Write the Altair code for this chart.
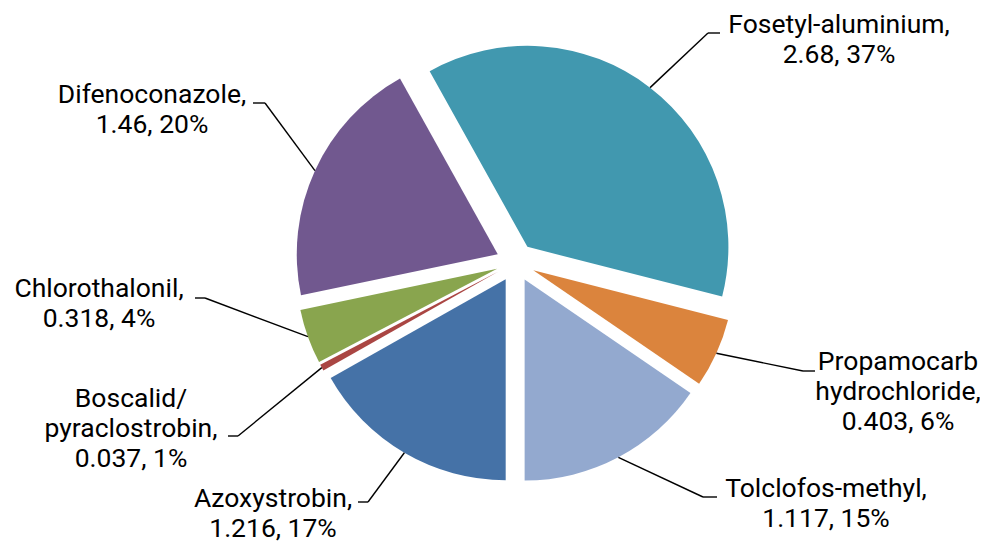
import math
import altair as alt
import pandas as pd

# ---- data (series order as in the workbook) ----
names = ["Azoxystrobin", "Boscalid/pyraclostrobin", "Chlorothalonil", "Difenoconazole",
         "Fosetyl-aluminium", "Propamocarb hydrochloride", "Tolclofos-methyl"]
label_names = ["Azoxystrobin,", "Boscalid/\npyraclostrobin,", "Chlorothalonil,", "Difenoconazole,",
               "Fosetyl-aluminium,", "Propamocarb\nhydrochloride,", "Tolclofos-methyl,"]
values = [1.216, 0.037, 0.318, 1.46, 2.68, 0.403, 1.117]
value_text = ["1.216", "0.037", "0.318", "1.46", "2.68", "0.403", "1.117"]
percents = [17, 1, 4, 20, 37, 6, 15]
colors = ["#4572A7", "#AA4643", "#89A54E", "#71588F", "#4198AF", "#DB843D", "#93A9CF"]

# ---- label layout (pixels in chart space) ----
label_x = [265, 123, 91, 144, 831, 890, 818]
label_y = [499, 399, 289, 95, 25, 362, 489]
elbow_x = [360, 230, 197, 257, 700, 795, 695]
elbow_y = [494, 428, 290, 95, 25, 363, 489]
tail_x = [350, 220, 187, 245, 712, 807, 709]

# ---- pie geometry ----
CX, CY = 507.5, 254.3     # pie centre
R = 201                   # radius
D = 19.5                  # explosion distance
START = math.pi           # first slice starts at the bottom

df = pd.DataFrame({
    "order": list(range(len(names))),
    "name": names,
    "value": values,
    "label": [f"{n}\n{v}, {p}%" for n, v, p in zip(label_names, value_text, percents)],
    "lx": label_x, "ly": label_y,
    "ex": elbow_x, "ey": elbow_y, "tx": tail_x,
})

base = (
    alt.Chart(df)
    .transform_joinaggregate(total="sum(value)")
    .transform_window(cum="sum(value)", sort=[alt.SortField("order")], frame=[None, 0])
    .transform_calculate(a1=f"{START} + 2*PI*(datum.cum - datum.value)/datum.total")
    .transform_calculate(a2=f"{START} + 2*PI*datum.cum/datum.total")
    .transform_calculate(mid="(datum.a1 + datum.a2)/2")
    .transform_calculate(ox=f"{CX} + {D}*sin(datum.mid)")
    .transform_calculate(oy=f"{CY} - {D}*cos(datum.mid)")
    .transform_calculate(px=f"datum.ox + {R}*sin(datum.mid)")
    .transform_calculate(py=f"datum.oy - {R}*cos(datum.mid)")
)

X = lambda f: alt.X(f, type="quantitative", scale=None, axis=None)
Y = lambda f: alt.Y(f, type="quantitative", scale=None, axis=None)

arcs = base.mark_arc(radius=R).encode(
    theta=alt.Theta("a1:Q", scale=None),
    theta2="a2:Q",
    x=X("ox"),
    y=Y("oy"),
    color=alt.Color("name:N", scale=alt.Scale(domain=names, range=colors), legend=None),
)

leader1 = base.mark_rule(color="#000000", strokeWidth=1.4).encode(
    x=X("px"), y=Y("py"), x2="ex:Q", y2="ey:Q"
)
leader2 = base.mark_rule(color="#000000", strokeWidth=1.4).encode(
    x=X("ex"), y=Y("ey"), x2="tx:Q", y2="ey:Q"
)

labels = base.mark_text(
    align="center", baseline="alphabetic", lineBreak="\n", lineHeight=30,
    fontSize=26.5, font="Roboto", color="#000000",
).encode(x=X("lx"), y=Y("ly"), text="label:N")

chart = (
    alt.layer(arcs, leader1, leader2, labels)
    .properties(width=972, height=537, padding=0, autosize="none")
    .configure_view(stroke=None)
)

chart.save("out.html", embed_options={"renderer": "svg", "actions": False})
